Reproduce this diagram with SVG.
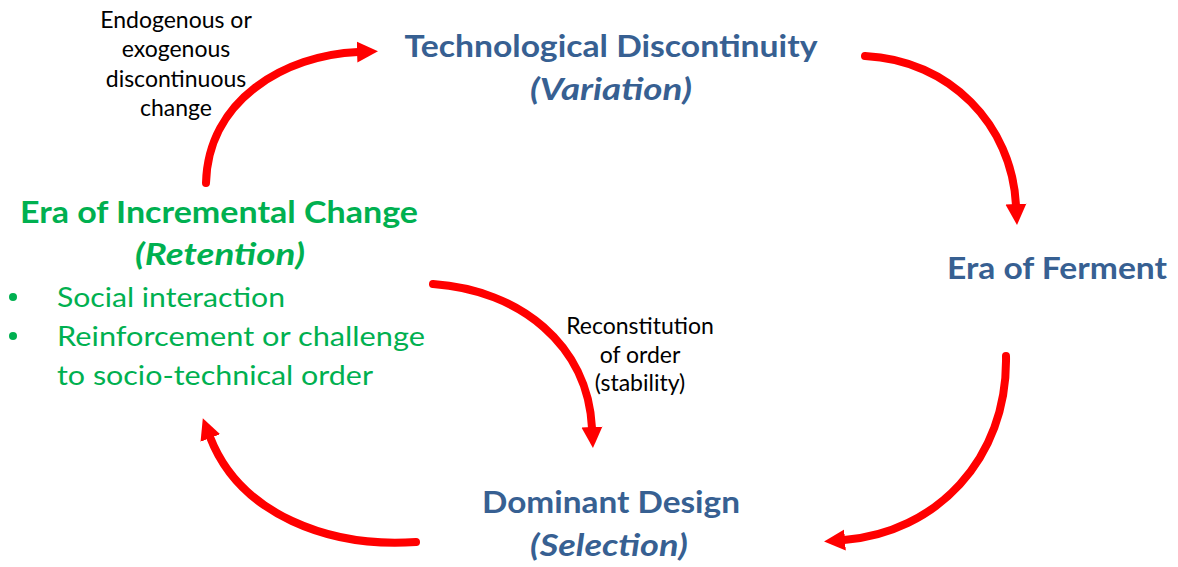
<svg xmlns="http://www.w3.org/2000/svg" width="1178" height="567" viewBox="0 0 1178 567">
  <style>
    .t { font-family: Lato, "Open Sans", "Liberation Sans", sans-serif; }
    .head { font-size: 31px; font-weight: bold; fill: #376092; }
    .headi { font-size: 31px; font-weight: bold; font-style: italic; fill: #376092; }
    .ghead { font-size: 31px; font-weight: bold; fill: #00B050; }
    .gheadi { font-size: 31px; font-weight: bold; font-style: italic; fill: #00B050; }
    .gbody { font-size: 27px; fill: #00B050; }
    .lbl { font-size: 23px; fill: #000000; }
    .arr { fill: none; stroke: #FF0000; stroke-width: 8; stroke-linecap: round; }
  </style>
  <defs>
    <marker id="ah" markerUnits="userSpaceOnUse" markerWidth="24" markerHeight="24" viewBox="0 -12 24 24" refX="1" refY="0" orient="auto">
      <path d="M0,-10.5 L21,0 L0,10.5 Z" fill="#FF0000"/>
    </marker>
  </defs>
  <rect width="1178" height="567" fill="#FFFFFF"/>

  <g id="connectors">
    <path class="arr" d="M206,183 C208,100 285,55 358,52" marker-end="url(#ah)"/>
    <path class="arr" d="M865,56 C950,60 1012,125 1016,205" marker-end="url(#ah)"/>
    <path class="arr" d="M1006,356 C1008,460 935,533 844,540" marker-end="url(#ah)"/>
    <path class="arr" d="M416,542 C330,548 240,515 210,437" marker-end="url(#ah)"/>
    <path class="arr" d="M433,284 C520,290 588,345 592,428" marker-end="url(#ah)"/>
  </g>

  <g id="node-tech-discontinuity" class="t">
    <text class="head" x="611" y="57" text-anchor="middle" textLength="413" lengthAdjust="spacingAndGlyphs">Technological Discontinuity</text>
    <text class="headi" x="611" y="100" text-anchor="middle" textLength="162" lengthAdjust="spacingAndGlyphs">(Variation)</text>
  </g>

  <g id="node-era-ferment" class="t">
    <text class="head" x="1057" y="279" text-anchor="middle" textLength="220" lengthAdjust="spacingAndGlyphs">Era of Ferment</text>
  </g>

  <g id="node-dominant-design" class="t">
    <text class="head" x="611" y="513" text-anchor="middle" textLength="258" lengthAdjust="spacingAndGlyphs">Dominant Design</text>
    <text class="headi" x="609" y="556" text-anchor="middle" textLength="158" lengthAdjust="spacingAndGlyphs">(Selection)</text>
  </g>

  <g id="node-era-incremental" class="t">
    <text class="ghead" x="219" y="223" text-anchor="middle" textLength="398" lengthAdjust="spacingAndGlyphs">Era of Incremental Change</text>
    <text class="gheadi" x="220" y="265" text-anchor="middle" textLength="170" lengthAdjust="spacingAndGlyphs">(Retention)</text>
    <circle cx="13" cy="297" r="4" fill="#00B050"/>
    <text class="gbody" x="57" y="307" textLength="228" lengthAdjust="spacingAndGlyphs">Social interaction</text>
    <circle cx="13" cy="336" r="4" fill="#00B050"/>
    <text class="gbody" x="57" y="346" textLength="368" lengthAdjust="spacingAndGlyphs">Reinforcement or challenge</text>
    <text class="gbody" x="57" y="385" textLength="316" lengthAdjust="spacingAndGlyphs">to socio-technical order</text>
  </g>

  <g id="label-discontinuous-change" class="t">
    <text class="lbl" x="176" y="28" text-anchor="middle">Endogenous or</text>
    <text class="lbl" x="176" y="57" text-anchor="middle">exogenous</text>
    <text class="lbl" x="176" y="87" text-anchor="middle">discontinuous</text>
    <text class="lbl" x="176" y="116" text-anchor="middle">change</text>
  </g>

  <g id="label-reconstitution" class="t">
    <text class="lbl" x="640" y="334" text-anchor="middle">Reconstitution</text>
    <text class="lbl" x="640" y="363" text-anchor="middle">of order</text>
    <text class="lbl" x="640" y="391" text-anchor="middle">(stability)</text>
  </g>
</svg>
